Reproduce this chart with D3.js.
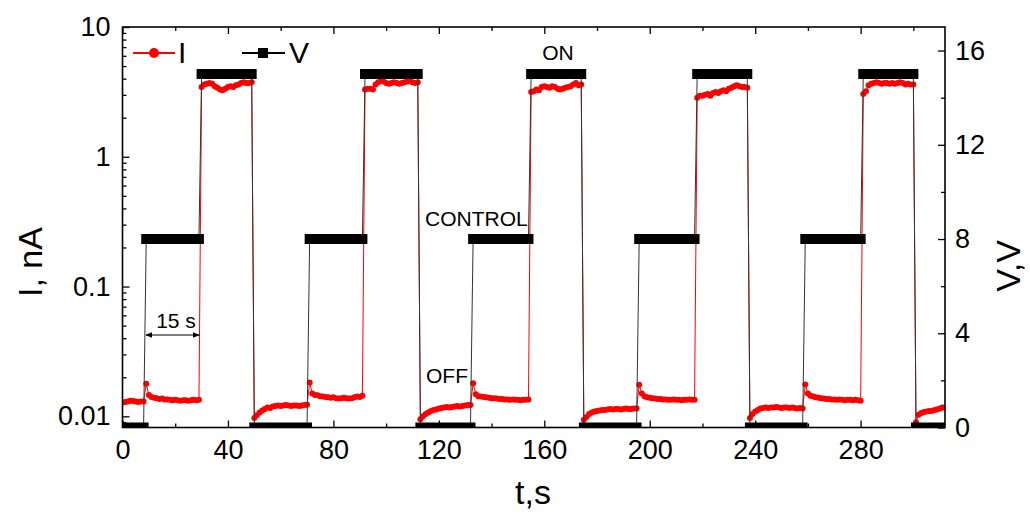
<!DOCTYPE html>
<html><head><meta charset="utf-8">
<script src="https://cdn.jsdelivr.net/npm/d3@7"></script>
<style>
html,body{margin:0;padding:0;background:#fff;}
text{font-family:"Liberation Sans",Arial,sans-serif;}
</style></head>
<body><svg id="c" width="1030" height="514"></svg>
<script>
// ---- Data ----
// I (nA), sampled every 1 s; each array starts at the time in segStart
const segStart = [0, 9, 30, 50, 71, 92, 113, 133, 155, 175, 196, 218, 238, 259, 281, 301];
const iOff0  = [0.0128,0.0129,0.0130,0.0132,0.0131,0.0130,0.0129,0.0130,0.0130];
const iCtl1  = [0.0178,0.0146,0.0141,0.0139,0.0138,0.0136,0.0137,0.0135,0.0135,0.0134,0.0133,0.0134,0.0133,0.0132,0.0133,0.0133,0.0132,0.0133,0.0134,0.0133,0.0134];
const iOn1   = [3.45,3.6,3.65,3.7,3.65,3.5,3.4,3.3,3.25,3.35,3.45,3.5,3.45,3.55,3.6,3.7,3.75,3.7,3.7,3.75];
const iOff1  = [0.0097,0.0102,0.0107,0.0111,0.0114,0.0117,0.0116,0.0119,0.0120,0.0121,0.0120,0.0121,0.0122,0.0121,0.0120,0.0121,0.0121,0.0120,0.0121,0.0122,0.0123];
const iCtl2  = [0.0182,0.0150,0.0146,0.0145,0.0143,0.0142,0.0141,0.0140,0.0139,0.0140,0.0138,0.0137,0.0138,0.0139,0.0138,0.0137,0.0138,0.0140,0.0142,0.0141,0.0144];
const iOn2   = [3.3,3.35,3.35,3.3,3.6,3.75,3.85,3.8,3.7,3.65,3.7,3.75,3.7,3.65,3.7,3.75,3.8,3.85,3.75,3.7,3.75];
const iOff2  = [0.0095,0.0100,0.0104,0.0107,0.0110,0.0112,0.0113,0.0115,0.0116,0.0117,0.0118,0.0117,0.0118,0.0119,0.0120,0.0119,0.0120,0.0121,0.0122,0.0122];
const iCtl3  = [0.0180,0.0148,0.0143,0.0142,0.0141,0.0140,0.0139,0.0138,0.0138,0.0137,0.0136,0.0136,0.0135,0.0135,0.0134,0.0135,0.0134,0.0134,0.0133,0.0134,0.0134,0.0135];
const iOn3   = [3.15,3.2,3.3,3.25,3.45,3.5,3.45,3.4,3.5,3.45,3.35,3.3,3.35,3.4,3.45,3.5,3.6,3.7,3.55,3.6];
const iOff3  = [0.0094,0.0099,0.0104,0.0107,0.0109,0.0110,0.0111,0.0112,0.0112,0.0113,0.0114,0.0113,0.0114,0.0114,0.0113,0.0114,0.0115,0.0114,0.0114,0.0115,0.0115];
const iCtl4  = [0.0175,0.0150,0.0143,0.0140,0.0139,0.0138,0.0137,0.0136,0.0136,0.0135,0.0135,0.0134,0.0134,0.0135,0.0134,0.0134,0.0133,0.0134,0.0134,0.0135,0.0134,0.0134];
const iOn4   = [2.85,2.95,2.95,3.0,3.05,2.95,3.1,3.15,3.1,3.2,3.25,3.2,3.35,3.4,3.5,3.55,3.5,3.45,3.45,3.4];
const iOff4  = [0.0097,0.0104,0.0109,0.0112,0.0115,0.0116,0.0117,0.0116,0.0117,0.0117,0.0118,0.0117,0.0116,0.0117,0.0117,0.0116,0.0117,0.0116,0.0115,0.0116,0.0115];
const iCtl5  = [0.0176,0.0150,0.0144,0.0142,0.0140,0.0139,0.0138,0.0137,0.0136,0.0136,0.0135,0.0135,0.0134,0.0135,0.0134,0.0133,0.0134,0.0134,0.0133,0.0134,0.0133,0.0132];
const iOn5   = [3.05,3.2,3.55,3.65,3.7,3.75,3.7,3.65,3.7,3.7,3.65,3.7,3.65,3.7,3.75,3.7,3.6,3.65,3.6,3.6];
const iOff5  = [0.0090,0.0103,0.0106,0.0108,0.0109,0.0110,0.0110,0.0112,0.0113,0.0115,0.0117];
const iSegments = [iOff0,iCtl1,iOn1,iOff1,iCtl2,iOn2,iOff2,iCtl3,iOn3,iOff3,iCtl4,iOn4,iOff4,iCtl5,iOn5,iOff5];

// V (V): plateau end points
const vTimes  = [0,8, 9,29, 30,49, 50,70, 71,91, 92,112, 113,132, 133,154, 155,174, 175,195, 196,217, 218,237, 238,258, 259,280, 281,300, 301,311];
const vLevels = [0,0, 8,8, 15,15, 0,0, 8,8, 15,15, 0,0, 8,8, 15,15, 0,0, 8,8, 15,15, 0,0, 8,8, 15,15, 0,0];

// Axes ticks
const xMajor = [0,40,80,120,160,200,240,280];
const xMinor = [20,60,100,140,180,220,260,300];
const iMajor = [0.01,0.1,1,10];
const iLabels = ["0.01","0.1","1","10"];
const vMajor = [0,4,8,12,16];
const vMinor = [2,6,10,14];

// ---- Build ----
const iData = [];
iSegments.forEach((seg,k)=>seg.forEach((v,j)=>iData.push({t:segStart[k]+j, v})));
const vData = vTimes.map((t,i)=>({t, v:vLevels[i]}));

const L=122.5, R=945, T=27, B=427.5;
const svg = d3.select("#c");
const x = d3.scaleLinear().domain([0,312]).range([L,R]);
const yI = d3.scaleLog().domain([0.0082,10]).range([B,T]);
const yV = d3.scaleLinear().domain([0,17]).range([B,T]);

svg.append("defs").append("clipPath").attr("id","clip")
  .append("rect").attr("x",L).attr("y",T).attr("width",R-L).attr("height",B-T);

const plot = svg.append("g").attr("clip-path","url(#clip)");

// I series
plot.append("path").datum(iData)
  .attr("fill","none").attr("stroke","#ff0000").attr("stroke-width",1)
  .attr("d", d3.line().x(d=>x(d.t)).y(d=>yI(d.v)));
plot.append("g").selectAll("circle").data(iData).join("circle")
  .attr("cx",d=>x(d.t)).attr("cy",d=>yI(d.v)).attr("r",3).attr("fill","#ff0000");

// V series: thin connecting line + thick plateau bars (square markers)
plot.append("path").datum(vData)
  .attr("fill","none").attr("stroke","#333").attr("stroke-width",1)
  .attr("d", d3.line().x(d=>x(d.t)).y(d=>yV(d.v)));
const plateaus = [];
for(let i=0;i<vData.length;i+=2) plateaus.push([vData[i],vData[i+1]]);
plot.append("g").selectAll("line").data(plateaus).join("line")
  .attr("x1",d=>x(d[0].t)).attr("x2",d=>x(d[1].t))
  .attr("y1",d=>yV(d[0].v)).attr("y2",d=>yV(d[1].v))
  .attr("stroke","#000").attr("stroke-width",10).attr("stroke-linecap","square");

// Axes
function styleAxis(g, fs){
  g.select(".domain").remove();
  g.selectAll(".tick line").attr("stroke","#000").attr("stroke-width",1.3);
  g.selectAll("text").attr("font-size",fs).attr("fill","#000")
    .attr("font-family","'Liberation Sans', Arial, sans-serif");
}
const fs = 27;
svg.append("g").attr("transform",`translate(0,${B})`)
  .call(d3.axisBottom(x).tickValues(xMajor).tickSize(-7).tickPadding(12).tickFormat(d3.format("d")))
  .call(g=>styleAxis(g,fs));
svg.append("g").attr("transform",`translate(0,${B})`)
  .call(d3.axisBottom(x).tickValues(xMinor).tickSize(-4).tickFormat(""))
  .call(g=>styleAxis(g,fs));
svg.append("g").attr("transform",`translate(0,${T})`)
  .call(d3.axisTop(x).tickValues(xMajor).tickSize(-7).tickFormat(""))
  .call(g=>styleAxis(g,fs));
svg.append("g").attr("transform",`translate(0,${T})`)
  .call(d3.axisTop(x).tickValues(xMinor).tickSize(-4).tickFormat(""))
  .call(g=>styleAxis(g,fs));

const iMinor = [];
[0.001,0.01,0.1,1].forEach(b=>{for(let m=2;m<=9;m++){const v=b*m; if(v>=0.0082 && v<=10) iMinor.push(v);}});
svg.append("g").attr("transform",`translate(${L},0)`)
  .call(d3.axisLeft(yI).tickValues(iMajor).tickSize(-7).tickPadding(12).tickFormat((d,i)=>iLabels[i]))
  .call(g=>styleAxis(g,fs));
svg.append("g").attr("transform",`translate(${L},0)`)
  .call(d3.axisLeft(yI).tickValues(iMinor).tickSize(-4).tickFormat(""))
  .call(g=>styleAxis(g,fs));

svg.append("g").attr("transform",`translate(${R},0)`)
  .call(d3.axisRight(yV).tickValues(vMajor).tickSize(-7).tickPadding(10).tickFormat(d3.format("d")))
  .call(g=>styleAxis(g,fs));
svg.append("g").attr("transform",`translate(${R},0)`)
  .call(d3.axisRight(yV).tickValues(vMinor).tickSize(-4).tickFormat(""))
  .call(g=>styleAxis(g,fs));

// Frame
svg.append("rect").attr("x",L).attr("y",T).attr("width",R-L).attr("height",B-T)
  .attr("fill","none").attr("stroke","#000").attr("stroke-width",1.6);

// Axis titles
svg.append("text").attr("transform",`translate(42,262) rotate(-90)`)
  .attr("text-anchor","middle").attr("font-size",34).text("I, nA");
svg.append("text").attr("x",533).attr("y",504)
  .attr("text-anchor","middle").attr("font-size",34).text("t,s");
svg.append("text").attr("transform",`translate(1020,266) rotate(-90)`)
  .attr("text-anchor","middle").attr("font-size",34).text("V,V");

// Legend
const lg = svg.append("g");
lg.append("line").attr("x1",133).attr("x2",175).attr("y1",53).attr("y2",53).attr("stroke","#ff0000").attr("stroke-width",2);
lg.append("circle").attr("cx",154).attr("cy",53).attr("r",5).attr("fill","#ff0000");
lg.append("text").attr("x",178).attr("y",63).attr("font-size",30).text("I");
lg.append("line").attr("x1",242).attr("x2",285).attr("y1",53).attr("y2",53).attr("stroke","#000").attr("stroke-width",2);
lg.append("rect").attr("x",258).attr("y",48).attr("width",10).attr("height",10).attr("fill","#000");
lg.append("text").attr("x",289).attr("y",63).attr("font-size",30).text("V");

// Annotations
svg.append("text").attr("x",558).attr("y",60).attr("text-anchor","middle").attr("font-size",21).text("ON");
svg.append("text").attr("x",425).attr("y",226).attr("font-size",21).text("CONTROL");
svg.append("text").attr("x",426).attr("y",383).attr("font-size",21).text("OFF");
svg.append("text").attr("x",176).attr("y",328).attr("text-anchor","middle").attr("font-size",21).text("15 s");
const defs = svg.select("defs");
defs.append("marker").attr("id","ah").attr("viewBox","0 0 10 10").attr("refX",9).attr("refY",5)
  .attr("markerWidth",6).attr("markerHeight",6).attr("orient","auto-start-reverse")
  .append("path").attr("d","M0,1 L10,5 L0,9 Z").attr("fill","#000");
svg.append("line").attr("x1",x(8.9)).attr("x2",x(29.1)).attr("y1",335).attr("y2",335)
  .attr("stroke","#000").attr("stroke-width",1.2)
  .attr("marker-start","url(#ah)").attr("marker-end","url(#ah)");
</script>
</body></html>
